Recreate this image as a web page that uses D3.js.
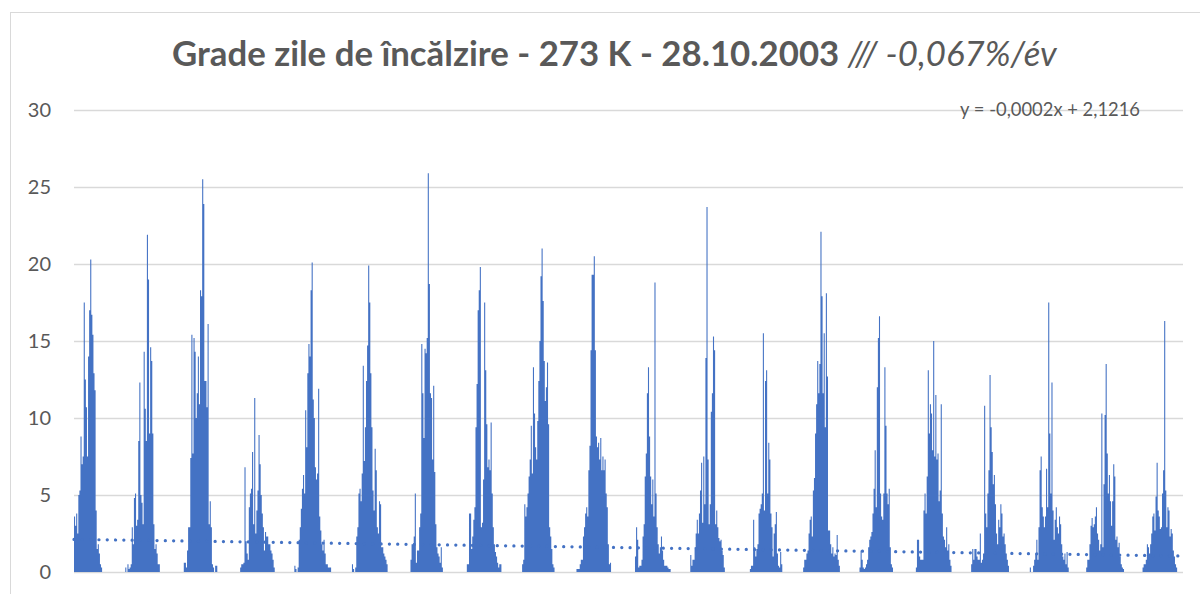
<!DOCTYPE html>
<html><head><meta charset="utf-8">
<script src="https://cdn.jsdelivr.net/npm/d3@7"></script>
<style>body{margin:0;background:#fff} svg{display:block}</style>
</head><body><svg id="c" width="1200" height="594"></svg>
<script>
// ---- data (weekly values, heating degree days) ----
const titleMain = "Grade zile de încălzire - 273 K - 28.10.2003 ";
const titleItalic = "/// -0,067%/év";
const equationLabel = "y = -0,0002x + 2,1216";
const yTicks = [0, 5, 10, 15, 20, 25, 30];
const seriesStart = "2003-10-28";
const seriesEnd = "2023-06-27";
const trendStart = 2.12;
const trendEnd = 1.04;
const seasonStarts = ["2003-10-28","2004-09-24","2005-09-24","2006-09-24","2007-09-24",
  "2008-09-24","2009-09-24","2010-09-24","2011-09-24","2012-09-24","2013-09-24",
  "2014-09-24","2015-09-24","2016-09-24","2017-09-24","2018-09-24","2019-09-24",
  "2020-09-24","2021-09-24","2022-09-24"];
const s2003 = [3.6,3.0,3.8,2.5,5.0,5.3,8.8,7.0,7.5,17.5,12.5,10.7,7.5,14.0,17.0,20.3,16.7,15.4,12.9,11.8,4.0,1.5,1.8,1.2,0.5,0.3];
const s2004 = [0.3,0,0.5,0.2,0.3,0.5,2.9,1.8,4.8,5.1,3.0,3.4,8.5,12.3,5.0,4.5,3.1,14.3,10.6,8.5,21.9,19.0,9.0,14.6,13.7,9.0,3.1,1.5,1.8,1.2,0.5,0.5];
const s2005 = [0,0,0.6,0.6,0.3,1.4,2.9,2.9,7.4,15.4,7.7,15.2,14.3,10.0,11.6,14.0,10.9,18.3,17.9,25.5,23.9,12.4,12.4,10.7,16.1,3.1,4.6,2.9,0.5,0.3,0,0.4,0.4];
const s2006 = [0,0,0.3,0.5,0.5,0.6,6.8,2.0,1.2,0.8,4.2,5.1,5.4,7.8,3.1,11.3,2.5,4.0,5.3,8.9,7.0,5.0,3.8,2.9,1.4,2.6,2.3,2.3,1.8,1.8,1.4,1.2,0.8,0.3];
const s2007 = [0.4,0.2,0,0.3,2.1,2.9,4.1,5.4,6.3,5.1,10.5,8.1,12.9,14.8,14.0,18.3,20.1,11.2,10.0,6.8,6.0,6.4,11.9,3.6,2.7,1.8,1.4,2.1,1.2,0.5,0.5,0.3,0.3,0.3];
const s2008 = [0,0.5,0.2,0,0.3,2.3,2.9,5.1,5.4,4.6,6.4,13.4,7.2,9.4,12.4,14.7,19.9,17.5,12.9,9.4,5.3,4.0,8.0,6.6,2.9,2.5,4.6,4.4,1.6,1.6,1.2,1.0,0.8,0.5];
const s2009 = [0,0,0,0.8,1.8,1.8,2.3,5.1,0.6,1.4,1.4,2.9,3.8,14.8,11.6,8.7,14.5,14.2,15.2,25.9,18.7,11.6,11.3,7.3,12.1,6.5,3.1,1.6,1.2,1.0,0.6,1.6,0.3];
const s2010 = [0,0,0,0.5,0.5,3.8,3.8,1.5,2.3,3.4,4.2,9.4,12.2,17.0,18.3,19.8,2.9,3.2,6.0,17.5,13.1,9.6,6.8,7.3,6.6,9.7,5.1,2.9,1.8,1.3,1.0,0.6,0.3,0.5,0.5];
const s2011 = [0,0,0.5,0.8,4.4,3.6,4.2,5.1,6.2,7.3,9.5,6.4,13.3,10.3,8.1,7.3,9.8,12.4,15.0,19.2,21.0,17.6,13.7,11.1,12.0,13.6,9.6,2.9,2.3,1.5,0.5,0.3];
const s2012 = [0.2,0.2,0.2,0.5,0.8,0.8,2.3,2.9,3.8,4.2,3.6,6.6,8.2,14.4,19.3,19.3,20.5,14.4,8.8,8.1,8.4,7.3,8.7,6.6,7.5,6.6,7.3,5.1,4.2,1.8,0.5,0.6];
const s2013 = [0,0,1.0,2.9,2.1,0.3,0.4,0.4,0.8,2.3,3.1,6.2,7.7,11.6,13.3,8.8,6.2,4.4,6.0,3.6,18.8,5.1,2.9,1.8,1.2,1.6,2.3,1.4,0.8,0.4,0.4,0.4,0.3,0.2,0.2];
const s2014 = [0,1.1,0.4,0.8,0.8,1.6,2.5,3.4,2.5,3.8,5.3,7.1,3.2,7.5,4.4,13.9,23.7,7.3,3.1,4.4,10.4,11.6,15.3,14.4,3.1,4.0,2.9,2.2,2.0,2.1,1.4,1.1,0.3];
const s2015 = [0,0,0,0,0.2,0.4,0.4,3.4,1.6,1.0,1.5,1.8,3.8,4.1,4.4,5.1,15.5,4.0,12.4,13.1,5.1,8.4,7.3,3.8,2.9,1.0,2.5,3.1,3.9,1.2,0.4,0.3,1.3,0.5];
const s2016 = [0,0.3,0.8,0.8,1.2,1.4,2.5,3.4,3.6,2.3,5.3,6.1,9.0,10.9,13.7,11.6,13.5,22.1,17.9,11.6,15.5,9.4,18.1,12.7,2.7,2.7,1.8,1.2,1.6,1.0,1.2,1.1,2.4,0.8,0.4];
const s2017 = [0,0.3,1.4,0.8,0.3,0.2,0.3,0.5,0.8,1.6,2.1,2.3,2.6,3.8,5.4,7.9,4.2,12.0,15.2,16.6,5.1,3.6,3.4,5.1,13.3,9.5,5.1,4.4,5.4,1.6,0.5,0.3];
const s2018 = [0,0.3,2.1,2.1,1.0,0.8,0.8,0.8,4.0,5.1,3.8,6.2,13.1,9.0,10.9,10.3,7.9,15.0,7.5,11.5,7.3,7.7,4.6,5.3,10.9,3.8,2.3,2.1,1.6,2.9,1.4,1.8,0.8,0.4];
const s2019 = [0.5,1.5,0.8,1.5,1.5,1.0,0.8,0.8,2.5,0.6,0.8,1.2,10.8,3.8,2.9,5.1,6.6,12.8,9.4,7.8,5.7,6.3,4.4,2.5,1.8,3.4,2.9,4.4,3.8,2.3,2.5,1.8,1.2,0.8,0.4];
const s2020 = [0,0,0.3,0,0,0.4,0.8,1.2,2.1,0.8,2.9,6.6,7.5,4.2,3.6,2.9,3.6,6.7,4.2,17.5,9.0,5.1,12.3,4.0,2.1,3.4,4.2,2.9,2.5,3.6,3.1,1.8,1.0,0.8,1.2,0.5,1.3,0.3];
const s2021 = [0,0,0.3,0.8,0.8,1.8,3.0,3.5,2.9,3.1,3.6,4.2,2.5,2.1,1.4,1.8,10.3,1.6,5.7,10.2,13.5,7.7,5.1,6.3,4.6,3.0,4.6,7.0,6.2,2.1,2.3,1.6,1.9,1.0,0.5,0.3,0.2];
const s2022 = [0,0,0.3,0.5,0.5,0.8,1.8,1.6,1.2,1.8,2.5,3.6,3.8,2.7,4.9,7.1,4.0,3.6,2.8,2.9,5.1,6.6,16.3,5.3,2.9,4.2,4.0,2.3,2.8,2.5,1.4,1.0,0.5,0.3];
const seasons = [s2003,s2004,s2005,s2006,s2007,s2008,s2009,s2010,s2011,s2012,s2013,s2014,s2015,s2016,s2017,s2018,s2019,s2020,s2021,s2022];

// ---- build table: one weekly column per value ----
const parse = d3.utcParse("%Y-%m-%d");
const seasonRows = seasons.map((arr, i) => {
  const s = parse(seasonStarts[i]);
  const pts = arr.map((v, k) => ({d: d3.utcDay.offset(s, 7 * k), v}));
  pts.push({d: d3.utcDay.offset(s, 7 * arr.length), v: 0});
  return pts;
});

// ---- drawing ----
const svg = d3.select("#c");
const m = {left: 74, right: 1183, top: 110, bottom: 572};
const font = "Lato, 'Open Sans', sans-serif";
const grey = "#595959";

svg.append("rect").attr("x", 10.5).attr("y", 12.5).attr("width", 1200).attr("height", 600)
  .attr("fill", "#fff").attr("stroke", "#D9D9D9").attr("stroke-width", 1);

const x = d3.scaleUtc().domain([parse(seriesStart), parse(seriesEnd)]).range([m.left, m.right]);
const y = d3.scaleLinear().domain([0, 30]).range([m.bottom, m.top]);

// gridlines + tick labels
const yAxis = d3.axisLeft(y).tickValues(yTicks).tickSize(-(m.right - m.left)).tickPadding(23).tickFormat(d3.format("d"));
const ga = svg.append("g").attr("transform", `translate(${m.left},0)`).call(yAxis);
ga.select(".domain").remove();
ga.selectAll(".tick line").attr("stroke", "#D9D9D9").attr("stroke-width", 1.3);
ga.selectAll(".tick text").attr("fill", grey).style("font-family", font).style("font-size", "20px");

// weekly columns, drawn as one stepped shape per season (no seams between adjacent columns)
const colShape = d3.area().curve(d3.curveStepAfter)
  .x(p => x(p.d)).y0(y(0)).y1(p => y(p.v));
svg.append("g").selectAll("path").data(seasonRows).join("path")
  .attr("d", colShape).attr("fill", "#4472C4");

// trend line
const trend = [{d: parse(seriesStart), v: trendStart}, {d: parse(seriesEnd), v: trendEnd}];
svg.append("path").datum(trend)
  .attr("d", d3.line().x(p => x(p.d)).y(p => y(p.v)))
  .attr("stroke", "#4472C4").attr("stroke-width", 3.2).attr("fill", "none")
  .attr("stroke-linecap", "round").attr("stroke-dasharray", "0.1 8.2");

// equation
const eq = svg.append("text").attr("x", 1140).attr("y", 116).attr("text-anchor", "end")
  .attr("fill", grey).style("font-family", font).style("font-size", "17px").text(equationLabel);
const eqW = eq.node().getComputedTextLength();
eq.style("font-size", (17 * 180 / eqW) + "px");

// title
const t = svg.append("text").attr("x", 172).attr("y", 66).attr("fill", grey)
  .style("font-family", font).style("font-size", "29px");
t.append("tspan").attr("font-weight", "bold").text(titleMain);
t.append("tspan").attr("font-style", "italic").text(titleItalic);
const tw = t.node().getComputedTextLength();
t.style("font-size", (29 * 885 / tw) + "px");
</script></body></html>
